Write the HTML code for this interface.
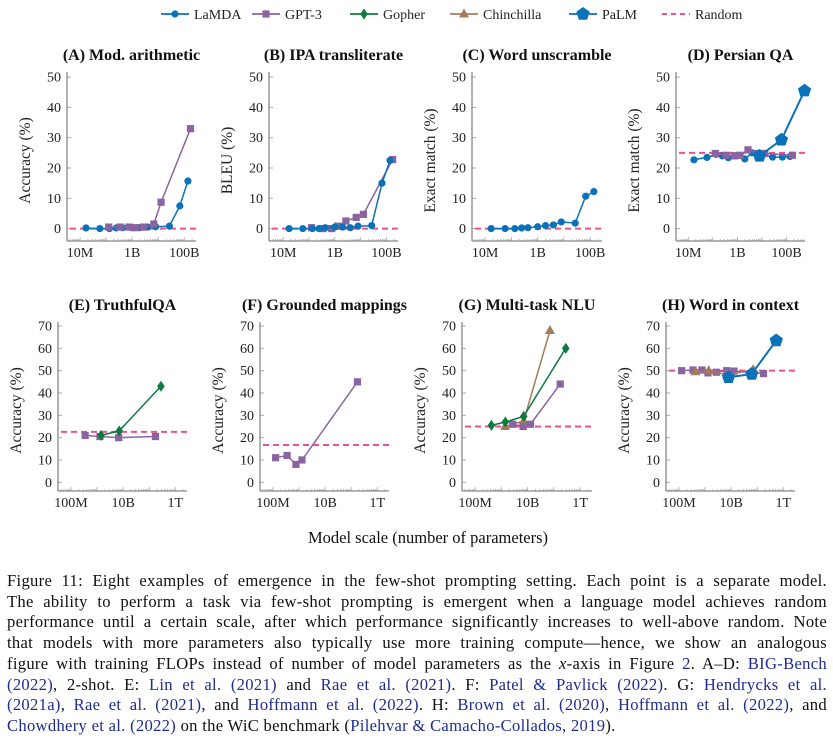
<!DOCTYPE html>
<html><head><meta charset="utf-8">
<style>
body{margin:0;background:#fff;width:833px;height:742px;overflow:hidden;position:relative;font-family:"Liberation Serif",serif;}
#chart{position:absolute;left:0;top:0;}
.cap{position:absolute;left:7px;width:820px;font-size:16.6px;letter-spacing:0.3px;line-height:20px;color:#111;text-align:justify;text-align-last:justify;white-space:nowrap;}
.cap.last{text-align-last:left;}
.c{color:#1f2d8f;}
</style></head><body>
<svg id="chart" width="833" height="560" xmlns="http://www.w3.org/2000/svg"></svg>
<div>
<div class="cap" style="top:571px">Figure 11: Eight examples of emergence in the few-shot prompting setting. Each point is a separate model.</div>
<div class="cap" style="top:592px">The ability to perform a task via few-shot prompting is emergent when a language model achieves random</div>
<div class="cap" style="top:612px">performance until a certain scale, after which performance significantly increases to well-above random. Note</div>
<div class="cap" style="top:633px">that models with more parameters also typically use more training compute—hence, we show an analogous</div>
<div class="cap" style="top:654px">figure with training FLOPs instead of number of model parameters as the <i>x</i>-axis in Figure <span class="c">2</span>. A–D: <span class="c">BIG-Bench</span></div>
<div class="cap" style="top:675px"><span class="c">(2022)</span>, 2-shot. E: <span class="c">Lin et al. (2021)</span> and <span class="c">Rae et al. (2021)</span>. F: <span class="c">Patel &amp; Pavlick (2022)</span>. G: <span class="c">Hendrycks et al.</span></div>
<div class="cap" style="top:695px"><span class="c">(2021a)</span>, <span class="c">Rae et al. (2021)</span>, and <span class="c">Hoffmann et al. (2022)</span>. H: <span class="c">Brown et al. (2020)</span>, <span class="c">Hoffmann et al. (2022)</span>, and</div>
<div class="cap last" style="top:716px"><span class="c">Chowdhery et al. (2022)</span> on the WiC benchmark (<span class="c">Pilehvar &amp; Camacho-Collados, 2019</span>).</div>
</div>
<script>
// model sizes (log10 params)
const lamdaSizes=[7.23,7.76,8.13,8.39,8.63,9.0,9.3,9.6,9.9,10.43,10.83,11.14];
const gpt3Sizes=[8.1,8.54,8.88,9.11,9.43,9.83,10.11,11.24];
const palmSizes=[9.9,10.79,11.73];
const gpt3SizesE=[8.54,9.11,9.83,11.24];
const gopherSizesE=[9.15,9.85,11.45];
const gpt3SizesF=[8.1,8.54,8.88,9.11,11.24];
const gopherSizesG=[8.62,9.15,9.85,11.45];
const chinchillaSizesG=[9.14,9.85,10.85];
const gpt3SizesG=[9.43,9.83,10.11,11.24];
const chinchillaSizesH=[8.63,9.14,9.85,10.85];
// values
const aLamda=[0.2,0,0,0.2,0.3,0.3,0.3,0.5,0.6,0.8,7.5,15.7];
const aGpt3=[0.5,0.5,0.5,0.3,0.5,1.5,8.7,33];
const bLamda=[0,0,0,0,0.3,0.5,0.5,0.3,0.8,1.0,15,22.5];
const bGpt3=[0.3,0,0,0.8,2.5,3.7,4.7,22.8];
const cLamda=[0,0,0,0.2,0.3,0.6,1.0,1.2,2.2,1.8,10.7,12.2];
const dLamda=[22.7,23.5,24.5,24,23.4,24.2,23,25,24.5,23.6,23.6,23.8];
const dGpt3=[24.8,24.2,24,24.2,26,24.8,24.8,24.2];
const dPalm=[24.0,29.3,45.5];
const eGpt3=[21,20.5,20,20.5];
const eGopher=[21,23,43];
const fGpt3=[11,12,8,10,45];
const gGopher=[25.5,27,29.5,60];
const gChinchilla=[25,27.5,68];
const gGpt3=[26,25,26,44];
const hGpt3=[50,50.3,50.3,49,49.3,50,49.8,48.7];
const hChinchilla=[49.5,50,48,50.5];
const hPalm=[47,48.5,63.5];
const randomLevels=[0,0,0,25,22.6,16.7,25,50];
const panelTitles=["(A) Mod. arithmetic","(B) IPA transliterate","(C) Word unscramble","(D) Persian QA","(E) TruthfulQA","(F) Grounded mappings","(G) Multi-task NLU","(H) Word in context"];
const yTitles=["Accuracy (%)","BLEU (%)","Exact match (%)","Exact match (%)","Accuracy (%)","Accuracy (%)","Accuracy (%)","Accuracy (%)"];
const topYTicks=[0,10,20,30,40,50];
const botYTicks=[0,10,20,30,40,50,60,70];
const topXTicks=[7,9,11];
const topXLabels=["10M","1B","100B"];
const botXTicks=[8,10,12];
const botXLabels=["100M","10B","1T"];

const COL={lamda:"#0a72b8",gpt3:"#8a64a0",gopher:"#0d7a3e",chin:"#a57c5a",palm:"#0a72b8",rand:"#f0508c"};
const svg=document.getElementById('chart');
const NS="http://www.w3.org/2000/svg";
function mk(tag,attrs,parent){const e=document.createElementNS(NS,tag);for(const k in attrs)e.setAttribute(k,attrs[k]);(parent||svg).appendChild(e);return e;}

const geo=[
 {x0:67,w:129,top:72,bot:241,ylo:-4.1,yhi:51.7,xlo:6.5,xhi:11.45},
 {x0:269,w:129,top:72,bot:241,ylo:-4.1,yhi:51.7,xlo:6.45,xhi:11.45},
 {x0:472,w:130,top:72,bot:241,ylo:-4.1,yhi:51.7,xlo:6.5,xhi:11.45},
 {x0:676,w:129,top:72,bot:241,ylo:-4.1,yhi:51.7,xlo:6.5,xhi:11.75},
 {x0:58,w:129,top:322,bot:491,ylo:-3.9,yhi:71.8,xlo:7.5,xhi:12.45},
 {x0:260,w:129,top:322,bot:491,ylo:-3.9,yhi:71.8,xlo:7.5,xhi:12.45},
 {x0:462,w:130,top:322,bot:491,ylo:-3.9,yhi:71.8,xlo:7.5,xhi:12.45},
 {x0:666,w:129,top:322,bot:491,ylo:-3.9,yhi:71.8,xlo:7.5,xhi:12.45}
];
const series=[
 [["lamda",lamdaSizes,aLamda],["gpt3",gpt3Sizes,aGpt3]],
 [["gpt3",gpt3Sizes,bGpt3],["lamda",lamdaSizes,bLamda]],
 [["lamda",lamdaSizes,cLamda]],
 [["lamda",lamdaSizes,dLamda],["gpt3",gpt3Sizes,dGpt3],["palm",palmSizes,dPalm]],
 [["gpt3",gpt3SizesE,eGpt3],["gopher",gopherSizesE,eGopher]],
 [["gpt3",gpt3SizesF,fGpt3]],
 [["chin",chinchillaSizesG,gChinchilla],["gpt3",gpt3SizesG,gGpt3],["gopher",gopherSizesG,gGopher]],
 [["gpt3",gpt3Sizes,hGpt3],["chin",chinchillaSizesH,hChinchilla],["palm",palmSizes,hPalm]]
];

function marker(kind,x,y,g){
  const c=COL[kind];let e;
  if(kind==="lamda"){e=mk('circle',{cx:x,cy:y,r:3.6,fill:c},g);}
  else if(kind==="gpt3"){e=mk('rect',{x:x-3.6,y:y-3.6,width:7.2,height:7.2,fill:c},g);}
  else if(kind==="gopher"){e=mk('polygon',{points:`${x},${y-5.5} ${x+3.8},${y} ${x},${y+5.5} ${x-3.8},${y}`,fill:c},g);}
  else if(kind==="chin"){e=mk('polygon',{points:`${x},${y-5.5} ${x+5},${y+3.5} ${x-5},${y+3.5}`,fill:c},g);}
  else {let p=[];for(let i=0;i<5;i++){const a=-Math.PI/2+i*2*Math.PI/5;p.push((x+7*Math.cos(a)).toFixed(1)+","+(y+7*Math.sin(a)).toFixed(1));}e=mk('polygon',{points:p.join(" "),fill:c},g);}
  
  
}

geo.forEach((G,i)=>{
  const top=i<4;
  const g=mk('g',{});
  
  
  const X=v=>G.x0+(v-G.xlo)/(G.xhi-G.xlo)*G.w;
  const Y=v=>G.bot-(v-G.ylo)/(G.yhi-G.ylo)*(G.bot-G.top);
  const t=mk('text',{x:G.x0+G.w/2,y:top?60:310,'text-anchor':'middle','font-size':16,'font-weight':'bold','font-family':'Liberation Serif, serif',fill:'#111'},g);
  t.textContent=panelTitles[i];
  
  
  const yl=mk('text',{transform:`translate(${G.x0-37},${(G.top+G.bot)/2+4}) rotate(-90)`,'text-anchor':'middle','font-size':15.5,'font-family':'Liberation Serif, serif',fill:'#222'},g);
  yl.textContent=yTitles[i];
  
  
  (top?topYTicks:botYTicks).forEach(v=>{
    mk('line',{x1:G.x0,x2:G.x0+4,y1:Y(v),y2:Y(v),stroke:'#aaa','stroke-width':1},g);
    const tl=mk('text',{x:G.x0-6,y:Y(v)+4.5,'text-anchor':'end','font-size':14,'font-family':'Liberation Serif, serif',fill:'#222'},g);
    tl.textContent=v;
    
    
  });
  for(let d=Math.floor(G.xlo);d<G.xhi;d++){for(let m=1;m<10;m++){const lv=d+Math.log10(m);if(lv<G.xlo||lv>G.xhi)continue;
    mk('line',{x1:X(lv),x2:X(lv),y1:G.bot,y2:G.bot-(m===1?4:2),stroke:'#aaa','stroke-width':0.8},g);}}
  const xt=top?topXTicks:botXTicks, xl=top?topXLabels:botXLabels;
  xt.forEach((v,k)=>{
    const tl=mk('text',{x:X(v),y:G.bot+16,'text-anchor':'middle','font-size':14,'font-family':'Liberation Serif, serif',fill:'#222'},g);
    tl.textContent=xl[k];
    
    
  });
  mk('line',{x1:G.x0,x2:G.x0,y1:G.top,y2:G.bot,stroke:'#888','stroke-width':1.3},g);
  mk('line',{x1:G.x0,x2:G.x0+G.w,y1:G.bot,y2:G.bot,stroke:'#888','stroke-width':1.3},g);
  const r=mk('line',{x1:G.x0+3,x2:G.x0+G.w,y1:Y(randomLevels[i]),y2:Y(randomLevels[i]),stroke:COL.rand,'stroke-width':2,'stroke-dasharray':'6,4'},g);
  
  
  series[i].forEach(([kind,xs,ys])=>{
    const pts=xs.map((x,k)=>X(x).toFixed(1)+","+Y(ys[k]).toFixed(1)).join(" ");
    const pl=mk('polyline',{points:pts,fill:'none',stroke:COL[kind],'stroke-width':kind==='palm'?2:1.5},g);
    
    
    xs.forEach((x,k)=>marker(kind,X(x),Y(ys[k]),g));
  });
});

const legendItems=[["lamda","LaMDA",161],["gpt3","GPT-3",252],["gopher","Gopher",350],["chin","Chinchilla",450],["palm","PaLM",569],["rand","Random",662]];
const lg=mk('g',{});


legendItems.forEach(([k,label,x])=>{
  const eg=mk('g',{},lg);
  
  
  const y=14;
  if(k==="rand"){mk('line',{x1:x,x2:x+28,y1:y,y2:y,stroke:COL.rand,'stroke-width':2,'stroke-dasharray':'5,4'},eg);}
  else{mk('line',{x1:x,x2:x+28,y1:y,y2:y,stroke:COL[k],'stroke-width':1.8},eg);marker(k,x+14,y,eg);}
  const t=mk('text',{x:x+33,y:y+5,'font-size':14,'font-family':'Liberation Serif, serif',fill:'#222'},eg);
  t.textContent=label;
});
const xa=mk('text',{x:428,y:543,'text-anchor':'middle','font-size':16.5,'font-family':'Liberation Serif, serif',fill:'#111'});
xa.textContent="Model scale (number of parameters)";


</script>
</body></html>
